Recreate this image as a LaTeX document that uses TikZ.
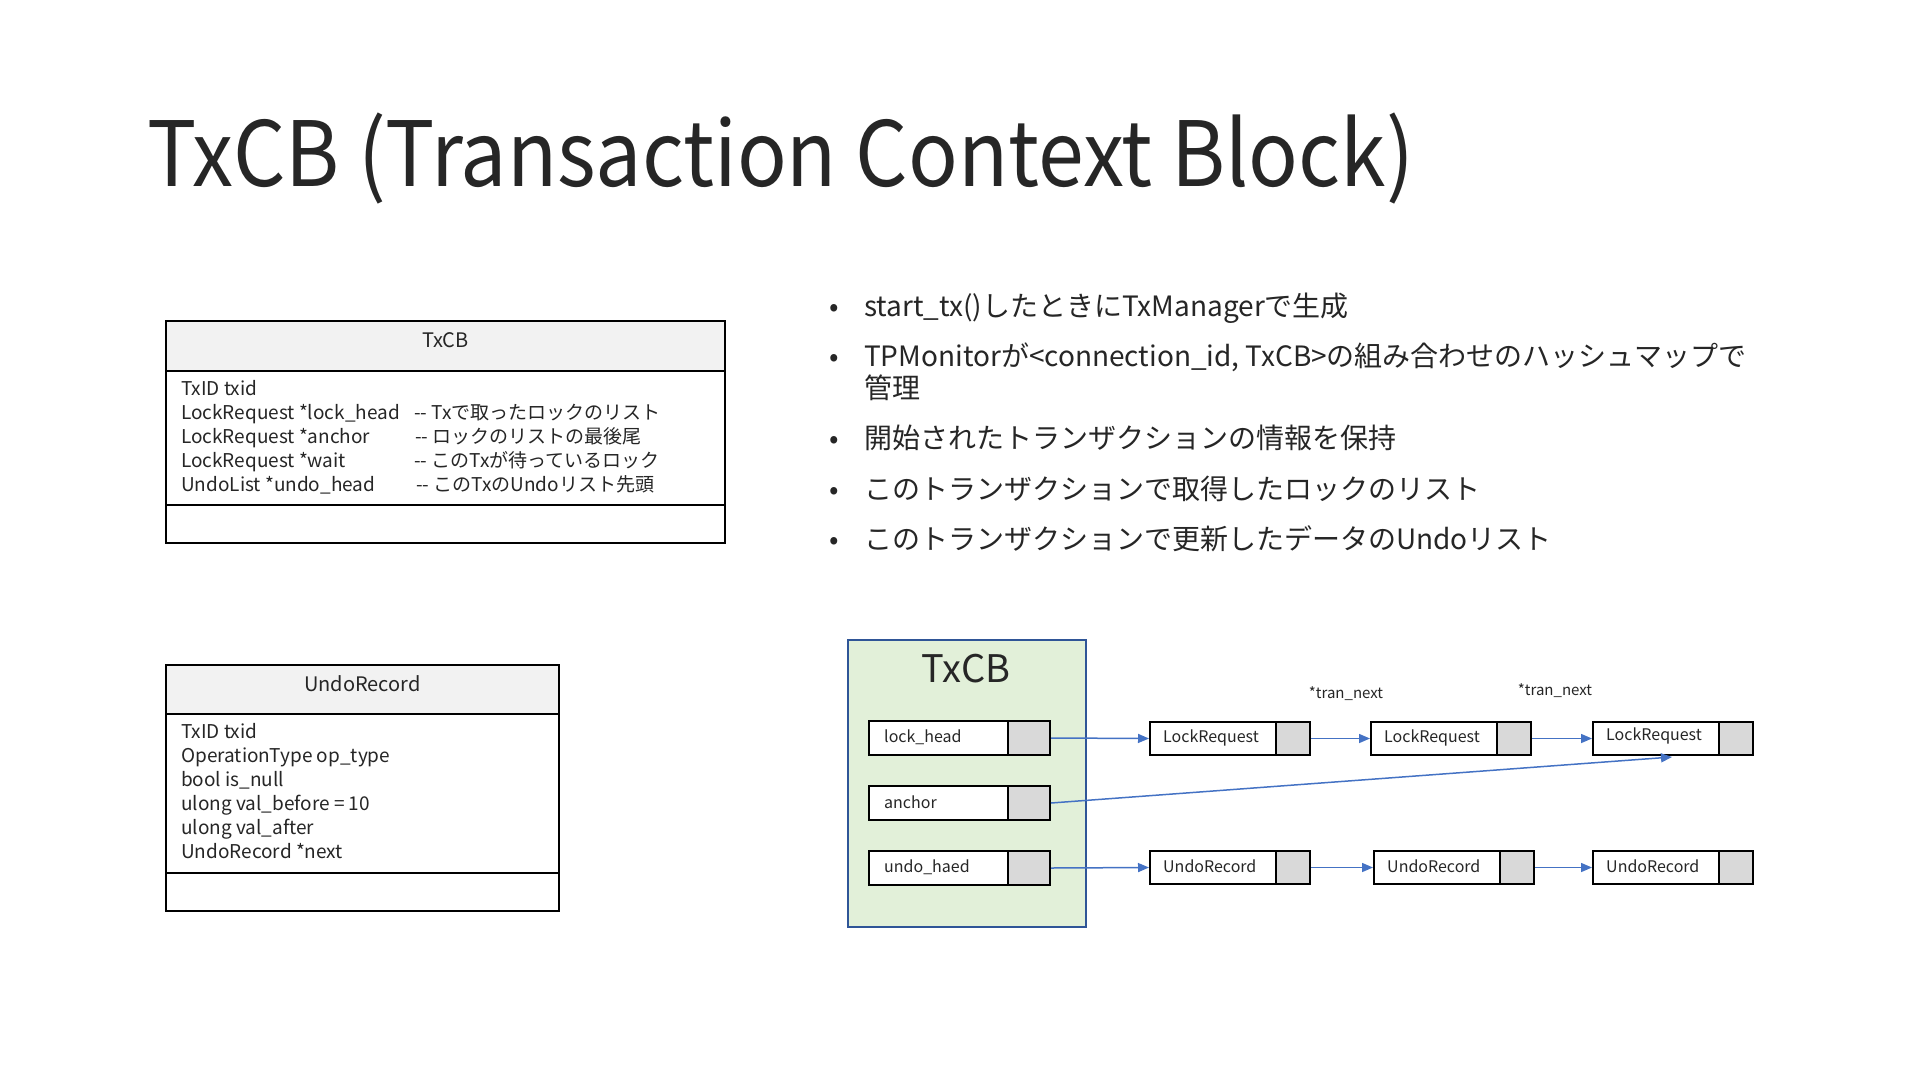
\documentclass[tikz,border=0pt]{standalone}
\usepackage{fontspec}
\setmainfont{Noto Sans CJK JP}
\usetikzlibrary{arrows.meta}
\definecolor{arrowblue}{HTML}{4472C4}
\definecolor{boxgreen}{HTML}{E2F0D9}
\definecolor{boxborder}{HTML}{2F5597}
\definecolor{headgray}{HTML}{F2F2F2}
\definecolor{ptrgray}{HTML}{D9D9D9}
\definecolor{txtcol}{HTML}{262626}
\begin{document}
\begin{tikzpicture}[x=1pt,y=-1pt,
  every node/.style={inner sep=0pt, text=txtcol},
  umlhead/.style={draw=black, fill=headgray, line width=2pt, anchor=north west},
  umlheadtxt/.style={font=\fontsize{20}{24}\selectfont, yshift=6pt},
  umlpart/.style={draw=black, fill=white, line width=2pt, anchor=north west},
  umltxt/.style={anchor=base west, font=\fontsize{19}{23}\selectfont},
  bullettxt/.style={anchor=base west, font=\fontsize{28}{34}\selectfont},
  fieldw/.style={draw=black, fill=white, line width=2pt, anchor=north west, minimum height=34pt},
  fieldp/.style={draw=black, fill=ptrgray, line width=2pt, anchor=north west, minimum height=34pt},
  recw/.style={draw=black, fill=white, line width=2pt, anchor=north west, minimum height=33pt, minimum width=126pt},
  recp/.style={draw=black, fill=ptrgray, line width=2pt, anchor=north west, minimum height=33pt, minimum width=34pt},
  smalltxt/.style={anchor=west, font=\fontsize{16}{19}\selectfont},
  arr/.style={draw=arrowblue, line width=1.5pt, -{Triangle[length=11pt,width=9pt]}}
]
\useasboundingbox (0,0) rectangle (1920,1080);
\fill[white] (0,0) rectangle (1920,1080);

% Title
\node[anchor=base west, font=\fontsize{90}{108}\selectfont] (title) at (147,186) {\scalebox{0.915}[1]{TxCB (Transaction Context Block)}};

% UML TxCB
\node[umlhead, minimum width=559pt, minimum height=50pt] (cbhead) at (165,320) {};
\node[umlheadtxt] (cbheadt) at (cbhead.center) {TxCB};
\node[umlpart, minimum width=559pt, minimum height=134pt] (cbbody) at (165,370) {};
\node[umlpart, minimum width=559pt, minimum height=38pt] (cbfoot) at (165,504) {};
\node[umltxt] (cb1) at (181,395) {TxID txid};
\node[umltxt] (cb2) at (181,419) {LockRequest *lock\_head};
\node[umltxt] (cb3) at (181,443) {LockRequest *anchor};
\node[umltxt] (cb4) at (181,467) {LockRequest *wait};
\node[umltxt] (cb5) at (181,491) {UndoList *undo\_head};
\node[umltxt] (cc2) at (414,419) {-{}- Txで取ったロックのリスト};
\node[umltxt] (cc3) at (415,443) {-{}- ロックのリストの最後尾};
\node[umltxt] (cc4) at (414,467) {-{}- このTxが待っているロック};
\node[umltxt] (cc5) at (416,491) {-{}- このTxのUndoリスト先頭};

% UML UndoRecord
\node[umlhead, minimum width=393pt, minimum height=49pt] (urhead) at (165,664) {};
\node[umlheadtxt] (urheadt) at (urhead.center) {UndoRecord};
\node[umlpart, minimum width=393pt, minimum height=159pt] (urbody) at (165,713) {};
\node[umlpart, minimum width=393pt, minimum height=38pt] (urfoot) at (165,872) {};
\node[umltxt] (ur1t) at (181,738) {TxID txid};
\node[umltxt] (ur2t) at (181,762) {OperationType op\_type};
\node[umltxt] (ur3t) at (181,786) {bool is\_null};
\node[umltxt] (ur4t) at (181,810) {ulong val\_before = 10};
\node[umltxt] (ur5t) at (181,834) {ulong val\_after};
\node[umltxt] (ur6t) at (181,858) {UndoRecord *next};

% Bullets
\node[bullettxt] (b1m) at (829,316) {•};
\node[bullettxt] (b1) at (864,316) {start\_tx()したときにTxManagerで生成};
\node[bullettxt] (b2m) at (829,366) {•};
\node[bullettxt] (b2) at (864,366) {TPMonitorが<connection\_id, TxCB>の組み合わせのハッシュマップで};
\node[bullettxt] (b2b) at (864,398) {管理};
\node[bullettxt] (b3m) at (829,448) {•};
\node[bullettxt] (b3) at (864,448) {開始されたトランザクションの情報を保持};
\node[bullettxt] (b4m) at (829,499) {•};
\node[bullettxt] (b4) at (864,499) {このトランザクションで取得したロックのリスト};
\node[bullettxt] (b5m) at (829,549) {•};
\node[bullettxt] (b5) at (864,549) {このトランザクションで更新したデータのUndoリスト};

% Green TxCB box
\node[draw=boxborder, fill=boxgreen, line width=2pt, anchor=north west, minimum width=238pt, minimum height=287pt] (gbox) at (847,639) {};
\node[font=\fontsize{38}{44}\selectfont] (gtitle) at (966,669) {TxCB};

\node[fieldw, minimum width=139pt] (lhw) at (868,720) {};
\node[fieldp, minimum width=42pt] (lhp) at (1007,720) {};
\node[smalltxt] (lht) at (884,737) {lock\_head};
\node[fieldw, minimum width=139pt] (anw) at (868,785) {};
\node[fieldp, minimum width=42pt] (anp) at (1007,785) {};
\node[smalltxt] (ant) at (884,802) {anchor};
\node[fieldw, minimum width=139pt] (udw) at (868,850) {};
\node[fieldp, minimum width=42pt] (udp) at (1007,850) {};
\node[smalltxt] (udt) at (884,867) {undo\_haed};

% Lock requests
\node[recw] (lr1w) at (1149,721) {};
\node[recp] (lr1p) at (1275,721) {};
\node[smalltxt] (lr1t) at (1163,737.5) {LockRequest};
\node[recw] (lr2w) at (1370,721) {};
\node[recp] (lr2p) at (1496,721) {};
\node[smalltxt] (lr2t) at (1384,737.5) {LockRequest};
\node[recw] (lr3w) at (1592,721) {};
\node[recp] (lr3p) at (1718,721) {};
\node[smalltxt] (lr3t) at (1606,736) {LockRequest};

% Undo records
\node[recw] (ur1w) at (1149,850) {};
\node[recp] (ur1p) at (1275,850) {};
\node[smalltxt] (ur1l) at (1163,866.5) {UndoRecord};
\node[recw] (ur2w) at (1373,850) {};
\node[recp] (ur2p) at (1499,850) {};
\node[smalltxt] (ur2l) at (1387,866.5) {UndoRecord};
\node[recw] (ur3w) at (1592,850) {};
\node[recp] (ur3p) at (1718,850) {};
\node[smalltxt] (ur3l) at (1606,866.5) {UndoRecord};

% labels
\node[font=\fontsize{15}{18}\selectfont] (tn1) at (1346,694) {*tran\_next};
\node[font=\fontsize{15}{18}\selectfont] (tn2) at (1555,691) {*tran\_next};

% arrows
\coordinate (anchortip) at (1672,757);
\draw[arr] (lhp.east) -- (lr1w.west);
\draw[arr] (lr1p.east) -- (lr2w.west);
\draw[arr] (lr2p.east) -- (lr3w.west);
\draw[arr] (anp.east) -- (anchortip);
\draw[arr] (udp.east) -- (ur1w.west);
\draw[arr] (ur1p.east) -- (ur2w.west);
\draw[arr] (ur2p.east) -- (ur3w.west);
\end{tikzpicture}
\end{document}
